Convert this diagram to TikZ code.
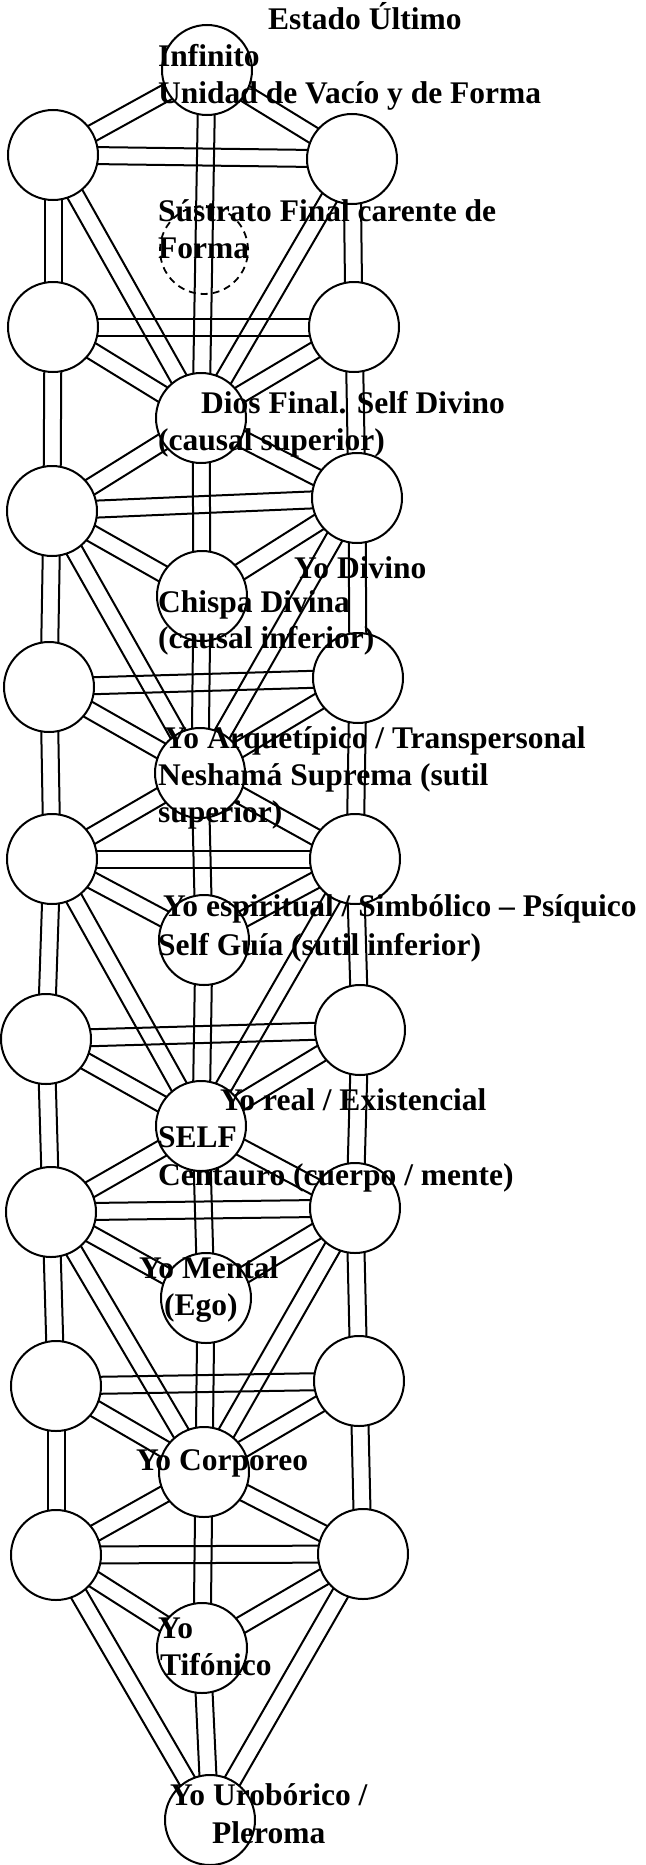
\documentclass[tikz,border=0pt]{standalone}
\usepackage{fontspec}
\setmainfont{Liberation Serif}
\usetikzlibrary{calc,backgrounds}

\tikzset{
  sef/.style={circle, draw, line width=2pt, fill=white, minimum size=90pt, inner sep=0pt},
  daath/.style={circle, draw, dash pattern=on 7pt off 5pt, line width=1.8pt, minimum size=88pt, inner sep=0pt},
  chan/.style={line width=2pt, to path={
    ($(\tikztostart)!8.5pt!90:(\tikztotarget)$) -- ($(\tikztotarget)!8.5pt!-90:(\tikztostart)$)
    ($(\tikztostart)!8.5pt!-90:(\tikztotarget)$) -- ($(\tikztotarget)!8.5pt!90:(\tikztostart)$)}},
  txt/.style={anchor=base west, inner sep=0pt, font=\fontsize{31.5}{37}\selectfont\bfseries},
}

\begin{document}
\begin{tikzpicture}[x=1pt, y=-1pt]
      \useasboundingbox (0,0) rectangle (645,1865);
      \path
        (207,70) node[sef] (M0) {}
        (204,250) node[daath] (M1) {}
        (201,418) node[sef] (M2) {}
        (202,596) node[sef] (M3) {}
        (200,773) node[sef] (M4) {}
        (204,940) node[sef] (M5) {}
        (201,1126) node[sef] (M6) {}
        (206,1298) node[sef] (M7) {}
        (204,1472) node[sef] (M8) {}
        (202,1648) node[sef] (M9) {}
        (210,1820) node[sef] (M10) {};
      \path
        (53,155) node[sef] (L1) {}
        (53,327) node[sef] (L2) {}
        (52,511) node[sef] (L3) {}
        (49,687) node[sef] (L4) {}
        (52,859) node[sef] (L5) {}
        (46,1039) node[sef] (L6) {}
        (51,1212) node[sef] (L7) {}
        (56,1386) node[sef] (L8) {}
        (56,1555) node[sef] (L9) {};
      \path
        (352,159) node[sef] (R1) {}
        (354,327) node[sef] (R2) {}
        (357,498) node[sef] (R3) {}
        (358,678) node[sef] (R4) {}
        (355,859) node[sef] (R5) {}
        (360,1030) node[sef] (R6) {}
        (355,1208) node[sef] (R7) {}
        (359,1381) node[sef] (R8) {}
        (363,1554) node[sef] (R9) {};
      \begin{scope}[on background layer]
      \begin{scope}[chan]
        \draw (M0) to (L1);
        \draw (M0) to (R1);
        \draw (M0) to (M2);
        \draw (L1) to (R1);
        \draw (L1) to (L2);
        \draw (R1) to (R2);
        \draw (L1) to (M2);
        \draw (R1) to (M2);
        \draw (L2) to (R2);
        \draw (L2) to (M2);
        \draw (R2) to (M2);
        \draw (L2) to (L3);
        \draw (R2) to (R3);
        \draw (M2) to (M3);
        \draw (M2) to (L3);
        \draw (M2) to (R3);
        \draw (L3) to (R3);
        \draw (L3) to (M3);
        \draw (R3) to (M3);
        \draw (L3) to (M4);
        \draw (R3) to (M4);
        \draw (L3) to (L4);
        \draw (R3) to (R4);
        \draw (M3) to (M4);
        \draw (L4) to (R4);
        \draw (L4) to (M4);
        \draw (R4) to (M4);
        \draw (L4) to (L5);
        \draw (R4) to (R5);
        \draw (M4) to (M5);
        \draw (M4) to (L5);
        \draw (M4) to (R5);
        \draw (L5) to (R5);
        \draw (L5) to (M5);
        \draw (R5) to (M5);
        \draw (L5) to (M6);
        \draw (R5) to (M6);
        \draw (L5) to (L6);
        \draw (R5) to (R6);
        \draw (M5) to (M6);
        \draw (L6) to (R6);
        \draw (L6) to (M6);
        \draw (R6) to (M6);
        \draw (L6) to (L7);
        \draw (R6) to (R7);
        \draw (M6) to (M7);
        \draw (M6) to (L7);
        \draw (M6) to (R7);
        \draw (L7) to (R7);
        \draw (L7) to (M7);
        \draw (R7) to (M7);
        \draw (L7) to (M8);
        \draw (R7) to (M8);
        \draw (L7) to (L8);
        \draw (R7) to (R8);
        \draw (M7) to (M8);
        \draw (L8) to (R8);
        \draw (L8) to (M8);
        \draw (R8) to (M8);
        \draw (L8) to (L9);
        \draw (R8) to (R9);
        \draw (M8) to (M9);
        \draw (M8) to (L9);
        \draw (M8) to (R9);
        \draw (L9) to (R9);
        \draw (L9) to (M9);
        \draw (R9) to (M9);
        \draw (L9) to (M10);
        \draw (R9) to (M10);
        \draw (M9) to (M10);
      \end{scope}
      \end{scope}
      \node[txt] (estado) at (268,30) {Estado Último};
      \node[txt] (infinito) at (158,67) {Infinito};
      \node[txt] (unidad) at (158,104) {Unidad de Vacío y de Forma};
      \node[txt] (sustrato) at (158,221) {Sústrato Final carente de};
      \node[txt] (forma) at (158,258) {Forma};
      \node[txt] (dios) at (201,413) {Dios Final. Self Divino};
      \node[txt] (causalsup) at (158,450) {(causal superior)};
      \node[txt] (yodivino) at (294,578) {Yo Divino};
      \node[txt] (chispa) at (158,612) {Chispa Divina};
      \node[txt] (causalinf) at (158,648) {(causal inferior)};
      \node[txt] (arquetipico) at (164,748) {Yo Arquetípico / Transpersonal};
      \node[txt] (neshama) at (158,785) {Neshamá Suprema (sutil};
      \node[txt] (sutilsup) at (158,822) {superior)};
      \node[txt] (espiritual) at (163,916) {Yo espiritual / Simbólico – Psíquico};
      \node[txt] (guia) at (158,955) {Self Guía (sutil inferior)};
      \node[txt] (real) at (220,1110) {Yo real / Existencial};
      \node[txt] (self) at (158,1147) {SELF};
      \node[txt] (centauro) at (158,1185) {Centauro (cuerpo / mente)};
      \node[txt] (mental) at (139,1278) {Yo Mental};
      \node[txt] (ego) at (164,1315) {(Ego)};
      \node[txt] (corporeo) at (136,1470) {Yo Corporeo};
      \node[txt] (yo) at (158,1638) {Yo};
      \node[txt] (tifonico) at (160,1675) {Tifónico};
      \node[txt] (uroborico) at (170,1805) {Yo Urobórico /};
      \node[txt] (pleroma) at (212,1843) {Pleroma};
    \end{tikzpicture}
\end{document}
